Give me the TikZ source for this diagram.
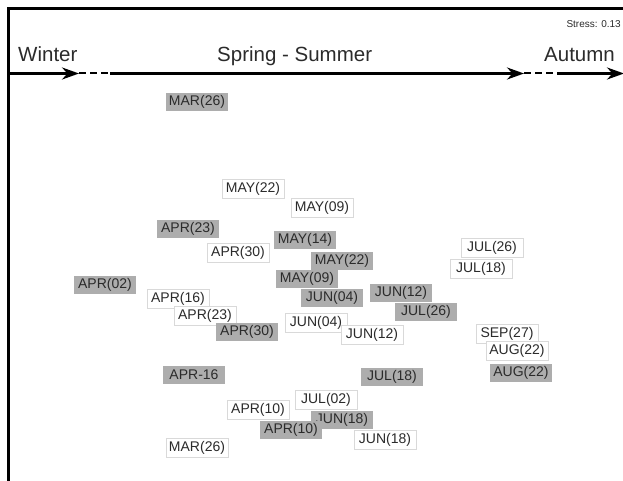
\documentclass[tikz,border=0pt]{standalone}
\usepackage{fontspec}
\setmainfont{Liberation Sans}
\usetikzlibrary{arrows.meta}
\definecolor{boxgray}{HTML}{ADADAD}
\definecolor{labeltext}{HTML}{2B2B2B}
\begin{document}
\begin{tikzpicture}[x=1pt,y=-1pt,
  graybox/.style={fill=boxgray,text=labeltext,inner sep=0pt,minimum width=62pt,minimum height=18.5pt,font=\fontsize{14pt}{16pt}\selectfont},
  whitebox/.style={graybox,fill=white,draw=black!15,line width=0.6pt},
  season/.style={anchor=base west,inner sep=0pt,text=labeltext,font=\fontsize{20.5pt}{24pt}\selectfont},
  timeline/.style={line width=2.6pt,-{Stealth[length=17pt,width=12pt]}},
  gap/.style={line width=2pt,dash pattern=on 7pt off 4pt}]
\useasboundingbox (0,0) rectangle (623,481);
\draw[line width=3pt] (8.5,481) -- (8.5,9) -- (623,9);
\node[season] (winter) at (18,62) {Winter};
\node[season] (spring) at (217,62) {Spring - Summer};
\node[season] (autumn) at (544,62) {Autumn};
\node[anchor=east,inner sep=0pt,text=labeltext,font=\fontsize{10pt}{12pt}\selectfont] (stress) at (621,24) {Stress: 0.13};
\coordinate (w0) at (8.5,73.5);
\coordinate (w1) at (79,73.5);
\coordinate (s0) at (110,73.5);
\coordinate (s1) at (524,73.5);
\coordinate (a0) at (557,73.5);
\coordinate (a1) at (624,73.5);
\draw[timeline] (w0) -- (w1);
\draw[gap] (w1) -- (s0);
\draw[timeline] (s0) -- (s1);
\draw[gap] (s1) -- (a0);
\draw[timeline] (a0) -- (a1);
\node[graybox] (1) at (197,102) {MAR(26)};
\node[whitebox] (2) at (253,189) {MAY(22)};
\node[whitebox] (3) at (322,208) {MAY(09)};
\node[graybox] (4) at (188,229) {APR(23)};
\node[graybox] (5) at (305,240) {MAY(14)};
\node[whitebox] (6) at (238,253) {APR(30)};
\node[graybox] (7) at (342,261) {MAY(22)};
\node[whitebox] (8) at (492,248) {JUL(26)};
\node[whitebox] (9) at (481,269) {JUL(18)};
\node[graybox] (10) at (105,285) {APR(02)};
\node[graybox] (11) at (307,279) {MAY(09)};
\node[graybox] (12) at (332,298) {JUN(04)};
\node[graybox] (13) at (401,293) {JUN(12)};
\node[graybox] (14) at (426,312) {JUL(26)};
\node[whitebox] (15) at (178,299) {APR(16)};
\node[whitebox] (16) at (205,316) {APR(23)};
\node[graybox] (17) at (247,332) {APR(30)};
\node[whitebox] (18) at (316,323) {JUN(04)};
\node[whitebox] (19) at (372,335) {JUN(12)};
\node[whitebox] (20) at (507,334) {SEP(27)};
\node[whitebox] (21) at (517,351) {AUG(22)};
\node[graybox] (22) at (521,373) {AUG(22)};
\node[graybox] (23) at (392,377) {JUL(18)};
\node[graybox] (24) at (194,375) {APR-16};
\node[whitebox] (25) at (326,400) {JUL(02)};
\node[whitebox] (26) at (258,410) {APR(10)};
\node[graybox] (27) at (342,420) {JUN(18)};
\node[graybox] (28) at (291,430) {APR(10)};
\node[whitebox] (29) at (385,440) {JUN(18)};
\node[whitebox] (30) at (197,448) {MAR(26)};
\end{tikzpicture}
\end{document}
